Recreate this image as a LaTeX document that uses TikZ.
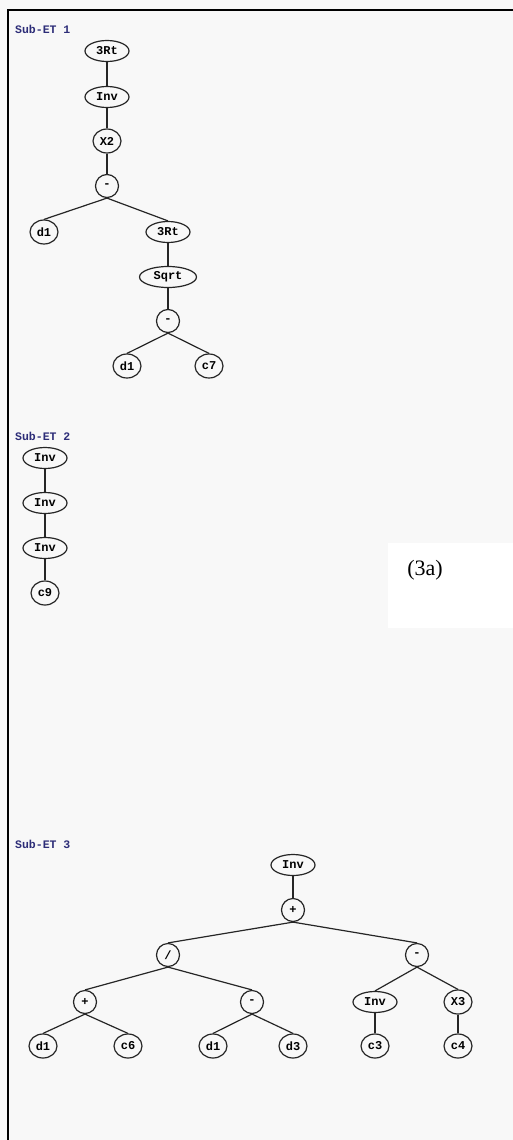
\documentclass[tikz,border=0pt]{standalone}
\usepackage{fontspec}
\setmainfont{Liberation Serif}
\setmonofont{Liberation Mono}
\usetikzlibrary{shapes.geometric}
\definecolor{navy}{RGB}{45,45,120}
\definecolor{bgc}{RGB}{248,248,248}
\begin{document}
\begin{tikzpicture}[x=1pt,y=-1pt,
  every node/.style={inner sep=0pt},
  nd/.style={draw=black!85, line width=1.2pt, ellipse, font=\ttfamily\bfseries\fontsize{12}{12}\selectfont},
  sa/.style={nd, minimum width=23pt, minimum height=23pt},
  sb/.style={nd, minimum width=28pt, minimum height=24pt},
  sc/.style={nd, minimum width=44pt, minimum height=21pt},
  sd/.style={nd, minimum width=57pt, minimum height=21pt},
  lab/.style={text=navy, font=\ttfamily\bfseries\fontsize{11.5}{12}\selectfont, anchor=west},
  link/.style={draw=black!85, line width=1.2pt}]
\useasboundingbox (0,0) rectangle (513,1140);
\fill[bgc] (0,0) rectangle (513,1140);
\fill[white] (388,543) rectangle (513,628);
\draw[line width=2pt] (8,1140) -- (8,10) -- (513,10);

% Sub-ET 1
\node[lab] (l1) at (15,29) {Sub-ET 1};
\node[sc] (a1) at (107,51) {3Rt};
\node[sc] (a2) at (107,97) {Inv};
\node[sb] (a3) at (107,141) {X2};
\node[sa] (a4) at (107,186) {-};
\node[sb] (a5) at (44,232) {d1};
\node[sc] (a6) at (168,232) {3Rt};
\node[sd] (a7) at (168,277) {Sqrt};
\node[sa] (a8) at (168,321) {-};
\node[sb] (a9) at (127,366) {d1};
\node[sb] (a10) at (209,366) {c7};
\draw[link] (a1.south) -- (a2.north);
\draw[link] (a2.south) -- (a3.north);
\draw[link] (a3.south) -- (a4.north);
\draw[link] (a4.south) -- (a5.north);
\draw[link] (a4.south) -- (a6.north);
\draw[link] (a6.south) -- (a7.north);
\draw[link] (a7.south) -- (a8.north);
\draw[link] (a8.south) -- (a9.north);
\draw[link] (a8.south) -- (a10.north);

% Sub-ET 2
\node[lab] (l2) at (15,436) {Sub-ET 2};
\node[sc] (b1) at (45,458) {Inv};
\node[sc] (b2) at (45,503) {Inv};
\node[sc] (b3) at (45,548) {Inv};
\node[sb] (b4) at (45,593) {c9};
\draw[link] (b1.south) -- (b2.north);
\draw[link] (b2.south) -- (b3.north);
\draw[link] (b3.south) -- (b4.north);

\node[font=\fontsize{22}{24}\selectfont] (cap) at (425,570) {(3a)};

% Sub-ET 3
\node[lab] (l3) at (15,844) {Sub-ET 3};
\node[sc] (e1) at (293,865) {Inv};
\node[sa] (e2) at (293,910) {+};
\node[sa] (e3) at (168,955) {/};
\node[sa] (e4) at (417,955) {-};
\node[sa] (e5) at (85,1002) {+};
\node[sa] (e6) at (252,1002) {-};
\node[sc] (e7) at (375,1002) {Inv};
\node[sb] (e8) at (458,1002) {X3};
\node[sb] (e9) at (43,1046) {d1};
\node[sb] (e10) at (128,1046) {c6};
\node[sb] (e11) at (213,1046) {d1};
\node[sb] (e12) at (293,1046) {d3};
\node[sb] (e13) at (375,1046) {c3};
\node[sb] (e14) at (458,1046) {c4};
\draw[link] (e1.south) -- (e2.north);
\draw[link] (e2.south) -- (e3.north);
\draw[link] (e2.south) -- (e4.north);
\draw[link] (e3.south) -- (e5.north);
\draw[link] (e3.south) -- (e6.north);
\draw[link] (e4.south) -- (e7.north);
\draw[link] (e4.south) -- (e8.north);
\draw[link] (e5.south) -- (e9.north);
\draw[link] (e5.south) -- (e10.north);
\draw[link] (e6.south) -- (e11.north);
\draw[link] (e6.south) -- (e12.north);
\draw[link] (e7.south) -- (e13.north);
\draw[link] (e8.south) -- (e14.north);
\end{tikzpicture}
\end{document}
